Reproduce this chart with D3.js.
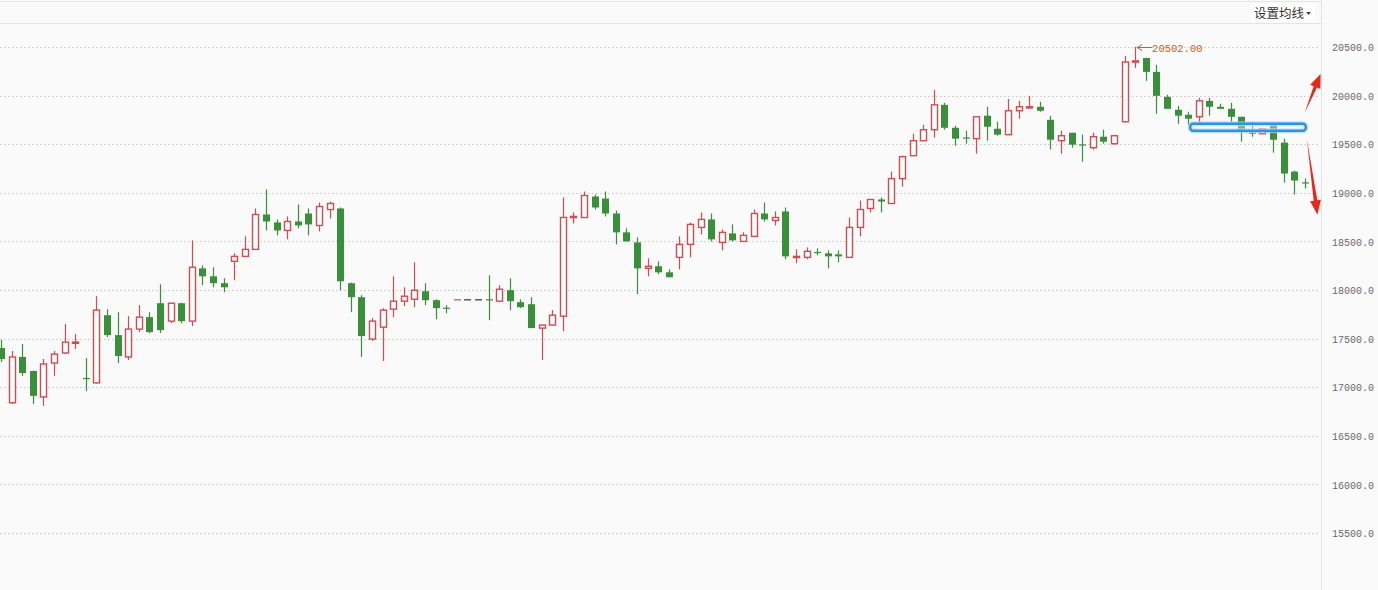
<!DOCTYPE html>
<html>
<head>
<meta charset="utf-8">
<script src="https://cdn.jsdelivr.net/npm/d3@7"></script>
<style>
  html, body { margin: 0; padding: 0; background: #fafafa; overflow: hidden; }
  svg { display: block; }
</style>
</head>
<body>
<script>
// OHLC, one entry per candle, left to right
const opens  = [17403,16840,17311,17167,16900,17249,17352,17455,17095,17044,17741,17536,17311,17598,17721,17864,17680,17864,17680,18223,
                18141,18070,18295,18346,18418,18777,18695,18613,18705,18787,18664,18828,18839,18070,17926,17495,17618,17803,17885,17905,
                17987,17895,17818,17905,17905,17905,17905,17885,17998,17875,17854,17608,17639,17731,18746,18746,18962,18941,18787,18593,
                18490,18223,18244,18182,18336,18470,18644,18726,18490,18582,18500,18552,18787,18716,18808,18340,18336,18392,18377,18367,
                18336,18644,18839,18931,18890,19146,19382,19536,19649,19905,19669,19570,19557,19793,19659,19598,19844,19880,19885,19751,
                19536,19618,19498,19464,19577,19505,19731,20350,20387,20244,19987,19854,19803,19782,19946,19885,19864,19782,19620,19608,
                19700,19516,19218,19108];
const highs  = [17485,17372,17444,17170,17290,17372,17649,17546,17300,17936,17803,17772,17731,17844,17772,18059,17870,17870,18511,18254,
                18234,18121,18377,18552,18839,19034,18726,18757,18880,18839,18900,18910,18849,18075,17946,17711,17813,18141,18028,18285,
                18070,17905,17844,17905,17905,17905,18152,18049,18121,17905,17926,17639,17793,18952,18798,19013,18982,19013,18818,18634,
                18541,18326,18295,18213,18552,18695,18798,18787,18623,18675,18593,18828,18900,18808,18849,18418,18439,18429,18408,18408,
                18746,18921,18931,18952,19218,19382,19608,19700,20059,19926,19690,19639,19782,19885,19731,19967,19946,19998,19936,19793,
                19639,19618,19598,19618,19649,19598,20408,20502,20390,20316,20008,19895,19834,19977,19977,19916,19926,19782,19731,19669,
                19700,19557,19228,19146];
const lows   = [17259,16830,17116,16829,16808,17116,17341,17393,16962,17040,17516,17249,17280,17567,17557,17557,17660,17660,17629,18049,
                18028,17977,18100,18340,18415,18613,18562,18521,18634,18562,18603,18736,17998,17772,17311,17475,17270,17721,17834,17823,
                17844,17700,17762,17905,17905,17905,17690,17875,17793,17813,17608,17280,17639,17577,18685,18746,18828,18757,18470,18500,
                17957,18141,18162,18131,18213,18336,18572,18500,18408,18500,18500,18552,18705,18664,18316,18275,18316,18357,18223,18285,
                18336,18552,18798,18798,18890,19064,19380,19536,19567,19649,19485,19505,19403,19536,19588,19598,19762,19875,19834,19444,
                19403,19464,19321,19444,19505,19495,19725,20285,20151,19813,19864,19710,19700,19721,19793,19864,19731,19526,19577,19608,
                19413,19105,18982,19044];
const closes = [17290,17311,17146,16911,17239,17341,17464,17464,17085,17793,17536,17321,17598,17721,17567,17587,17864,17680,18234,18141,
                18070,18028,18346,18418,18777,18705,18613,18705,18664,18675,18859,18890,18090,17926,17526,17680,17793,17885,17936,17998,
                17895,17813,17810,17905,17905,17905,17900,18008,17885,17823,17608,17639,17741,18746,18757,18972,18849,18787,18593,18500,
                18223,18244,18182,18131,18470,18675,18726,18521,18593,18511,18562,18787,18726,18746,18346,18346,18398,18388,18346,18346,
                18644,18828,18931,18910,19146,19372,19536,19649,19905,19669,19557,19567,19782,19680,19598,19844,19885,19885,19844,19546,
                19587,19495,19495,19577,19526,19587,20346,20357,20244,19998,19864,19793,19762,19946,19885,19864,19782,19649,19618,19659,
                19546,19198,19126,19105];

const yTicks = [15500, 16000, 16500, 17000, 17500, 18000, 18500, 19000, 19500, 20000, 20500];
const menuLabel = "设置均线";

// hand-drawn marks on the right side, given in (candle index, price)
const boxLevel = [112.2, 123.1, 19710, 19639];          // x0, x1, top, bottom
const arrowUp   = [[123.0, 19823], [124.5, 20223]];
const arrowDown = [[123.2, 19557], [124.2, 18777]];

const W = 1378, H = 590;
const plotRight = 1321;

const candles = opens.map((o, i) => ({ i, o, h: highs[i], l: lows[i], c: closes[i] }));

const x = d3.scaleLinear().domain([0, candles.length - 1]).range([0.9, 1304.7]);
const y = d3.scaleLinear().domain([15500, 20500]).range([533, 47]);

const red = "#d24b50", green = "#3a8f3b", flat = "#333";

function colorOf(d) {
  if (d.c > d.o) return red;
  if (d.c < d.o) return green;
  const prev = d.i > 0 ? candles[d.i - 1].c : d.c;
  if (d.c > prev) return red;
  if (d.c < prev) return green;
  return flat;
}

const svg = d3.select("body").append("svg")
  .attr("width", W).attr("height", H)
  .style("font-family", "'Liberation Mono', 'DejaVu Sans Mono', monospace");

svg.append("rect").attr("width", W).attr("height", H).attr("fill", "#fafafa");

// header rules
svg.append("line").attr("x1", 0).attr("x2", plotRight).attr("y1", 1.5).attr("y2", 1.5)
  .attr("stroke", "#e4e4e4");
svg.append("line").attr("x1", 0).attr("x2", plotRight).attr("y1", 23.5).attr("y2", 23.5)
  .attr("stroke", "#e4e4e4");

// grid
svg.append("g").selectAll("line").data(yTicks).join("line")
  .attr("x1", 0).attr("x2", plotRight - 2)
  .attr("y1", d => Math.round(y(d)) + 0.5).attr("y2", d => Math.round(y(d)) + 0.5)
  .attr("stroke", "#c8c8c8").attr("stroke-dasharray", "1.5,2.5");

// right axis
svg.append("line").attr("x1", plotRight + 0.5).attr("x2", plotRight + 0.5)
  .attr("y1", 0).attr("y2", H).attr("stroke", "#e2e2e2");

const yAxis = d3.axisRight(y).tickValues(yTicks).tickFormat(d3.format(".1f")).tickSize(0).tickPadding(0);
const axG = svg.append("g").attr("transform", `translate(1332,0.5)`).call(yAxis);
axG.select(".domain").remove();
axG.selectAll("text").attr("fill", "#6a6a6a").style("font-size", "10px")
  .style("font-family", "'Liberation Mono', 'DejaVu Sans Mono', monospace");

// candles
const cg = svg.append("g");
const bw = 6;
const sel = cg.selectAll("g.c").data(candles).join("g").attr("class", "c");

sel.append("line")
  .attr("x1", d => Math.round(x(d.i)) + 0.5).attr("x2", d => Math.round(x(d.i)) + 0.5)
  .attr("y1", d => y(d.h)).attr("y2", d => y(d.l))
  .attr("stroke", colorOf).attr("stroke-width", 1.2);

sel.append("rect")
  .attr("x", d => Math.round(x(d.i)) - bw / 2 + (d.c > d.o ? 0.5 : 0))
  .attr("width", d => d.c > d.o ? bw : bw + 1)
  .attr("y", d => d.c > d.o ? y(d.c) : y(d.o))
  .attr("height", d => Math.max(1.2, Math.abs(y(d.o) - y(d.c))))
  .attr("fill", d => d.c > d.o ? "#fff" : colorOf(d))
  .attr("stroke", d => d.c > d.o ? red : "none")
  .attr("stroke-width", 1.4);

// max high annotation
const peak = candles.reduce((a, b) => (b.h > a.h ? b : a));
const ann = svg.append("g").attr("fill", "#c8621a").attr("stroke", "#c8621a");
const ax0 = x(peak.i) + 2, ay = Math.round(y(peak.h)) + 0.5;
ann.append("line").attr("x1", ax0).attr("x2", ax0 + 15).attr("y1", ay).attr("y2", ay).attr("stroke-width", 1);
ann.append("path").attr("d", `M${ax0 + 5},${ay - 3} L${ax0},${ay} L${ax0 + 5},${ay + 3}`)
  .attr("fill", "none").attr("stroke-width", 1);
ann.append("text").attr("x", ax0 + 15).attr("y", ay + 4).attr("stroke", "none")
  .style("font-size", "10.5px").style("font-family", "'Liberation Mono', 'DejaVu Sans Mono', monospace")
  .text(d3.format(".2f")(peak.h));

// blue level box
const bx0 = x(boxLevel[0]), bx1 = x(boxLevel[1]), by0 = y(boxLevel[2]), by1 = y(boxLevel[3]);
svg.append("rect").attr("x", bx0).attr("y", by0).attr("width", bx1 - bx0).attr("height", by1 - by0)
  .attr("rx", 3).attr("fill", "none").attr("stroke", "#9fd2f8").attr("stroke-width", 5).attr("opacity", 0.7);
svg.append("rect").attr("x", bx0).attr("y", by0).attr("width", bx1 - bx0).attr("height", by1 - by0)
  .attr("rx", 3).attr("fill", "rgba(235,246,255,0.35)").attr("stroke", "#2e92e6").attr("stroke-width", 2.4);

// red arrows
function arrow(pts) {
  const [p0, p1] = pts.map(p => [x(p[0]), y(p[1])]);
  const dx = p1[0] - p0[0], dy = p1[1] - p0[1];
  const len = Math.hypot(dx, dy), ux = dx / len, uy = dy / len;
  const nx = -uy, ny = ux;
  const hl = 14, hw = 5.5;
  const bx = p1[0] - ux * hl, by = p1[1] - uy * hl;
  const path = d3.path();
  path.moveTo(p0[0], p0[1]);
  path.lineTo(bx + nx * 1.8, by + ny * 1.8);
  path.lineTo(bx + nx * hw, by + ny * hw);
  path.lineTo(p1[0], p1[1]);
  path.lineTo(bx - nx * hw, by - ny * hw);
  path.lineTo(bx - nx * 1.8, by - ny * 1.8);
  path.closePath();
  svg.append("path").attr("d", path.toString()).attr("fill", "#e8261c");
}
arrow(arrowUp);
arrow(arrowDown);

// menu label
const mg = svg.append("g");
mg.append("rect").attr("x", 1251).attr("y", 4).attr("width", 64).attr("height", 18).attr("fill", "#fff");
mg.append("text").attr("x", 1254).attr("y", 18)
  .style("font-family", "'Noto Sans CJK SC', sans-serif").style("font-size", "12.5px")
  .attr("fill", "#333").text(menuLabel);
mg.append("path").attr("d", "M1306,12 L1311,12 L1308.5,15 Z").attr("fill", "#444");
</script>
</body>
</html>
